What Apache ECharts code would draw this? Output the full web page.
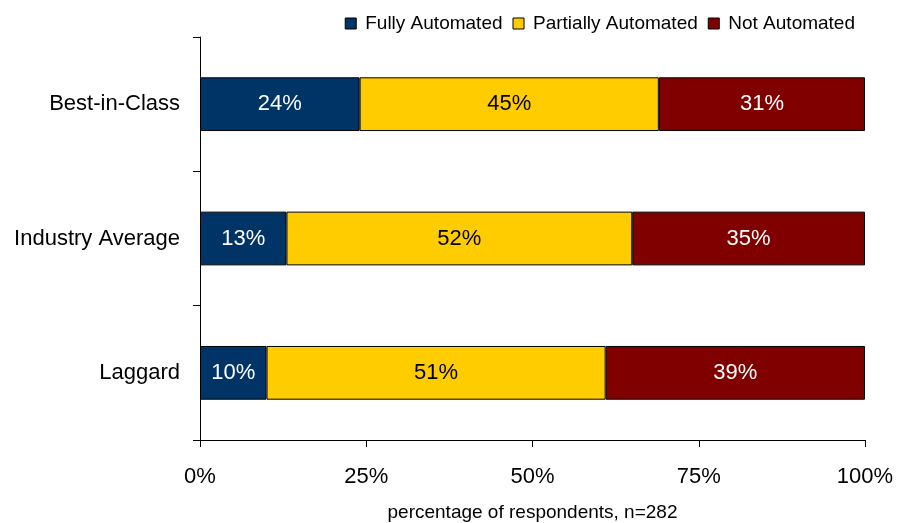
<!DOCTYPE html>
<html>
<head>
<meta charset="utf-8">
<script src="https://cdn.jsdelivr.net/npm/echarts@6/dist/echarts.min.js"></script>
<style>
  html, body { margin: 0; padding: 0; background: #fff; }
  #chart { width: 898px; height: 523px; }
</style>
</head>
<body>
<div id="chart"></div>
<script>
  // categories top to bottom
  var categories = ['Best-in-Class', 'Industry Average', 'Laggard'];
  var fullyAutomated = [24, 13, 10];
  var partiallyAutomated = [45, 52, 51];
  var notAutomated = [31, 35, 39];
  var xTicks = [0, 25, 50, 75, 100];

  var chart = echarts.init(document.getElementById('chart'));

  function barSeries(name, data, color, labelColor) {
    return {
      name: name,
      type: 'bar',
      stack: 'total',
      barWidth: '40%',
      data: data,
      itemStyle: {
        color: color,
        borderColor: '#000',
        borderWidth: 1
      },
      label: {
        show: true,
        position: 'inside',
        formatter: '{c}%',
        color: labelColor,
        fontFamily: 'Liberation Sans, Arial',
        fontSize: 22
      }
    };
  }

  chart.setOption({
    backgroundColor: '#fff',
    animation: false,
    textStyle: { fontFamily: 'Liberation Sans, Arial' },
    legend: {
      right: 38,
      top: 9,
      itemWidth: 11,
      itemHeight: 11,
      itemGap: 10,
      icon: 'rect',
      itemStyle: { borderColor: '#000', borderWidth: 1 },
      textStyle: { fontSize: 19, color: '#000', padding: [0, 0, 0, 4] },
      data: ['Fully Automated', 'Partially Automated', 'Not Automated']
    },
    grid: {
      left: 200,
      right: 33,
      top: 37,
      bottom: 83,
      containLabel: false,
      outerBoundsMode: 'none'
    },
    xAxis: {
      type: 'value',
      min: 0,
      max: 100,
      interval: 25,
      name: 'percentage of respondents, n=282',
      nameLocation: 'middle',
      nameGap: 63,
      nameTextStyle: { fontSize: 19, color: '#000' },
      axisLine: { show: true, lineStyle: { color: '#000', width: 1 } },
      axisTick: { show: true, length: 7, lineStyle: { color: '#000' } },
      axisLabel: {
        fontSize: 22,
        color: '#000',
        margin: 26,
        formatter: function (v) { return xTicks.indexOf(v) >= 0 ? v + '%' : ''; }
      },
      splitLine: { show: false }
    },
    yAxis: {
      type: 'category',
      inverse: true,
      data: categories,
      axisLine: { show: true, lineStyle: { color: '#000', width: 1 } },
      axisTick: { show: true, length: 7, lineStyle: { color: '#000' } },
      axisLabel: { fontSize: 22, color: '#000', margin: 20 }
    },
    series: [
      barSeries('Fully Automated', fullyAutomated, '#003366', '#fff'),
      barSeries('Partially Automated', partiallyAutomated, '#FFCC00', '#000'),
      barSeries('Not Automated', notAutomated, '#800000', '#fff')
    ]
  });
</script>
</body>
</html>
